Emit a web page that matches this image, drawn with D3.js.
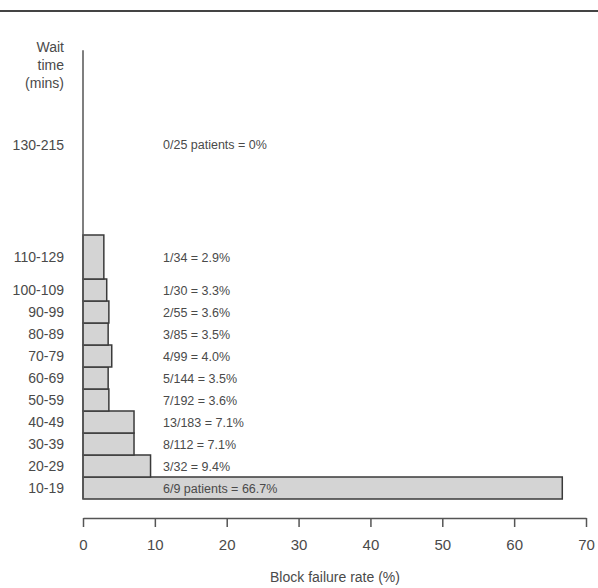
<!DOCTYPE html>
<html><head><meta charset="utf-8">
<script src="https://cdn.jsdelivr.net/npm/d3@7/dist/d3.min.js"></script>
<style>body{margin:0;background:#fff}svg{display:block}text{font-family:"Liberation Sans",Arial,sans-serif;fill:#4a4a4a}</style>
</head><body>
<script>
const categories = ["10-19","20-29","30-39","40-49","50-59","60-69","70-79","80-89","90-99","100-109","110-129","130-215"];
const binStart = [10,20,30,40,50,60,70,80,90,100,110,130];
const binEnd = [20,30,40,50,60,70,80,90,100,110,130,215];
const rates = [66.7,9.4,7.1,7.1,3.6,3.5,4.0,3.5,3.6,3.3,2.9,0];
const annotations = ["6/9 patients = 66.7%","3/32 = 9.4%","8/112 = 7.1%","13/183 = 7.1%","7/192 = 3.6%","5/144 = 3.5%","4/99 = 4.0%","3/85 = 3.5%","2/55 = 3.6%","1/30 = 3.3%","1/34 = 2.9%","0/25 patients = 0%"];
const xTicks = [0,10,20,30,40,50,60,70];

const W = 598, H = 588;
const svg = d3.select("body").append("svg").attr("width", W).attr("height", H);

const x = d3.scaleLinear().domain([0,70]).range([83,586]);
const y = d3.scaleLinear().domain([10,215]).range([499,48]);

const data = categories.map((c,i)=>({c, s:binStart[i], e:binEnd[i], v:rates[i], a:annotations[i]}));

// top rule
svg.append("line").attr("x1",0).attr("x2",W).attr("y1",11).attr("y2",11)
  .attr("stroke","#444").attr("stroke-width",2);

// bars
svg.selectAll("rect.bar").data(data.filter(d=>d.v>0)).join("rect")
  .attr("class","bar")
  .attr("x", x(0))
  .attr("y", d=>y(d.e))
  .attr("width", d=>x(d.v)-x(0))
  .attr("height", d=>y(d.s)-y(d.e))
  .attr("fill","#d4d4d4").attr("stroke","#3a3a3a").attr("stroke-width",1.5);

// y axis line
svg.append("line").attr("x1",x(0)).attr("x2",x(0)).attr("y1",y(214)).attr("y2",y(10))
  .attr("stroke","#555").attr("stroke-width",1.5);

// category labels
svg.selectAll("text.cat").data(data).join("text")
  .attr("class","cat")
  .attr("x",64).attr("y",d=>y((d.s+d.e)/2)+ (d.c==="130-215"?3:0))
  .attr("dy","0.36em").attr("text-anchor","end")
  .style("font-size","14px").text(d=>d.c);

// annotations
svg.selectAll("text.ann").data(data).join("text")
  .attr("class","ann")
  .attr("x",163).attr("y",d=>y((d.s+d.e)/2)+ (d.c==="130-215"?3:0))
  .attr("dy","0.36em")
  .style("font-size","12.5px").text(d=>d.a);

// y title
const yt = svg.append("text").attr("text-anchor","end").style("font-size","14px");
["Wait","time","(mins)"].forEach((t,i)=>{
  yt.append("tspan").attr("x",64).attr("y",47+i*18).attr("dy","0.36em").text(t);
});

// x axis
const xAxis = d3.axisBottom(x).tickValues(xTicks).tickSize(9).tickPadding(12).tickSizeOuter(0);
const gx = svg.append("g").attr("transform","translate(0,518)").call(xAxis);
gx.select(".domain").attr("stroke","#555").attr("stroke-width",1.5);
gx.selectAll(".tick line").attr("stroke","#555").attr("stroke-width",1.5);
gx.selectAll(".tick text").style("font-size","15px").style("font-family","'Liberation Sans',Arial,sans-serif").attr("fill","#4a4a4a");

svg.append("text").attr("x",335).attr("y",582).attr("text-anchor","middle")
  .style("font-size","14px").text("Block failure rate (%)");
</script>
</body></html>
